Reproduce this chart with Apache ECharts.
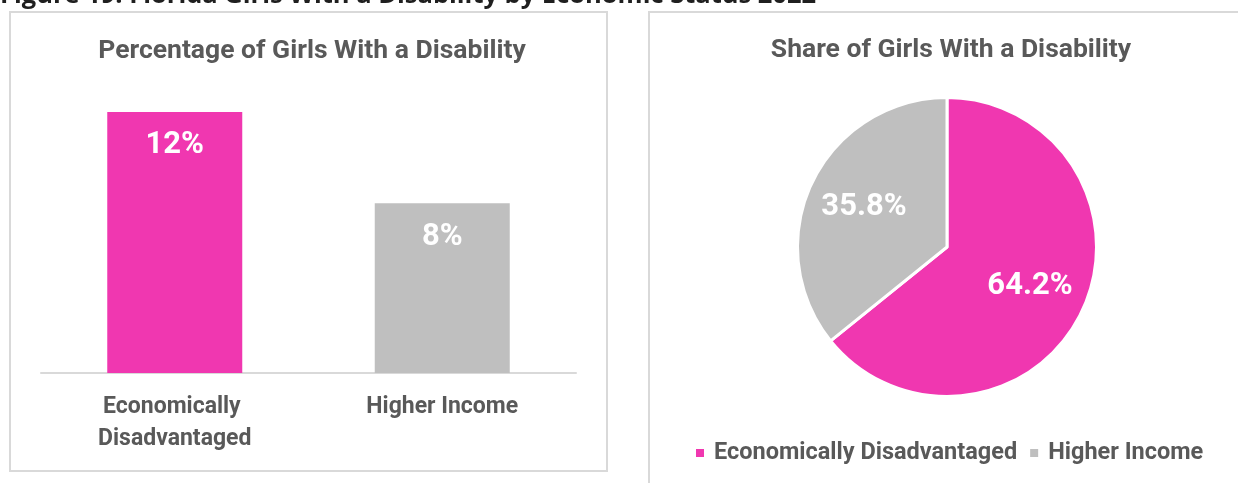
<!DOCTYPE html>
<html>
<head>
<meta charset="utf-8">
<script src="https://cdn.jsdelivr.net/npm/echarts@6/dist/echarts.min.js"></script>
<style>
  html, body { margin: 0; padding: 0; background: #ffffff; }
  #chart { width: 1238px; height: 483px; }
</style>
</head>
<body>
<div id="chart"></div>
<script>
// Figure data
const figureCaption = 'Figure 19: Florida Girls With a Disability by Economic Status 2022';
const barTitle = 'Percentage of Girls With a Disability';
const pieTitle = 'Share of Girls With a Disability';
const categories = ['Economically Disadvantaged', 'Higher Income'];
const pctWithDisability = [12.3, 8.0];      // percent of girls in each group
const shareOfGirls = [64.2, 35.8];          // share of all girls with a disability
const groupColors = ['#F037B0', '#BFBFBF'];

const FONT = '"Roboto", "Noto Sans", sans-serif';
const TEXT_GRAY = '#595959';
const FRAME = '#D9D9D9';

const chart = echarts.init(document.getElementById('chart'), null, { renderer: 'canvas' });

const pieData = categories.map((name, i) => ({
  name: name,
  value: shareOfGirls[i],
  itemStyle: { color: groupColors[i] }
}));

chart.setOption({
  animation: false,
  backgroundColor: '#ffffff',
  textStyle: { fontFamily: FONT },
  title: [
    {
      text: barTitle, left: 307, top: 33, textAlign: 'center',
      textStyle: { fontFamily: FONT, fontSize: 26.5, fontWeight: 'bold', color: TEXT_GRAY }
    },
    {
      text: pieTitle, left: 946, top: 32, textAlign: 'center',
      textStyle: { fontFamily: FONT, fontSize: 26.5, fontWeight: 'bold', color: TEXT_GRAY }
    }
  ],
  legend: {
    left: 689, top: 436,
    itemWidth: 10, itemHeight: 10, itemGap: 11,
    icon: 'rect',
    data: categories.map((name, i) => ({ name: name, itemStyle: { color: groupColors[i] } })),
    textStyle: { fontFamily: FONT, fontSize: 23.5, fontWeight: 'bold', color: TEXT_GRAY, padding: [0, 0, 0, 4] }
  },
  grid: { left: 41, width: 535, top: 76, bottom: 110, containLabel: false },
  xAxis: {
    type: 'category',
    data: categories,
    axisLine: { lineStyle: { color: FRAME, width: 2 } },
    axisTick: { show: false },
    axisLabel: {
      interval: 0, margin: 18, width: 200, overflow: 'break',
      fontFamily: FONT, fontSize: 23, fontWeight: 'bold', color: TEXT_GRAY, lineHeight: 32
    }
  },
  yAxis: {
    type: 'value', min: 0, max: 14, interval: 2,
    show: false, splitLine: { show: false }
  },
  series: [
    {
      type: 'bar',
      barWidth: 135,
      data: pctWithDisability.map((v, i) => ({ value: v, itemStyle: { color: groupColors[i] } })),
      label: {
        show: true, position: 'insideTop', distance: 18,
        formatter: p => Math.round(p.value) + '%',
        fontFamily: FONT, fontSize: 31, fontWeight: 'bold', color: '#ffffff'
      }
    },
    {
      // visible pie slices
      type: 'pie',
      center: [947, 247],
      radius: [0, 149.5],
      startAngle: 90,
      clockwise: true,
      data: pieData,
      itemStyle: { borderColor: '#ffffff', borderWidth: 3 },
      label: { show: false },
      labelLine: { show: false },
      emphasis: { disabled: true }
    },
    {
      // transparent twin that places the percentage labels a bit past mid-radius
      type: 'pie',
      center: [947, 247],
      radius: [0, 178],
      startAngle: 90,
      clockwise: true,
      silent: true,
      data: pieData.map(d => ({ name: d.name, value: d.value, itemStyle: { color: 'rgba(0,0,0,0)' } })),
      label: {
        show: true, position: 'inside',
        formatter: p => p.value.toFixed(1) + '%',
        fontFamily: FONT, fontSize: 31, fontWeight: 'bold', color: '#ffffff'
      },
      labelLine: { show: false },
      emphasis: { disabled: true },
      z: 3
    }
  ],
  graphic: [
    {
      type: 'rect', silent: true, z: -1,
      shape: { x: 10, y: 12, width: 597, height: 459 },
      style: { fill: 'none', stroke: FRAME, lineWidth: 2 }
    },
    {
      type: 'rect', silent: true, z: -1,
      shape: { x: 649, y: 12, width: 700, height: 600 },
      style: { fill: 'none', stroke: FRAME, lineWidth: 2 }
    },
    {
      type: 'text', silent: true,
      x: 0, y: -4,
      style: {
        text: figureCaption,
        font: 'bold 25.5px "Open Sans", sans-serif',
        fill: '#1F1F1F',
        verticalAlign: 'middle', align: 'left'
      }
    }
  ]
});
</script>
</body>
</html>
